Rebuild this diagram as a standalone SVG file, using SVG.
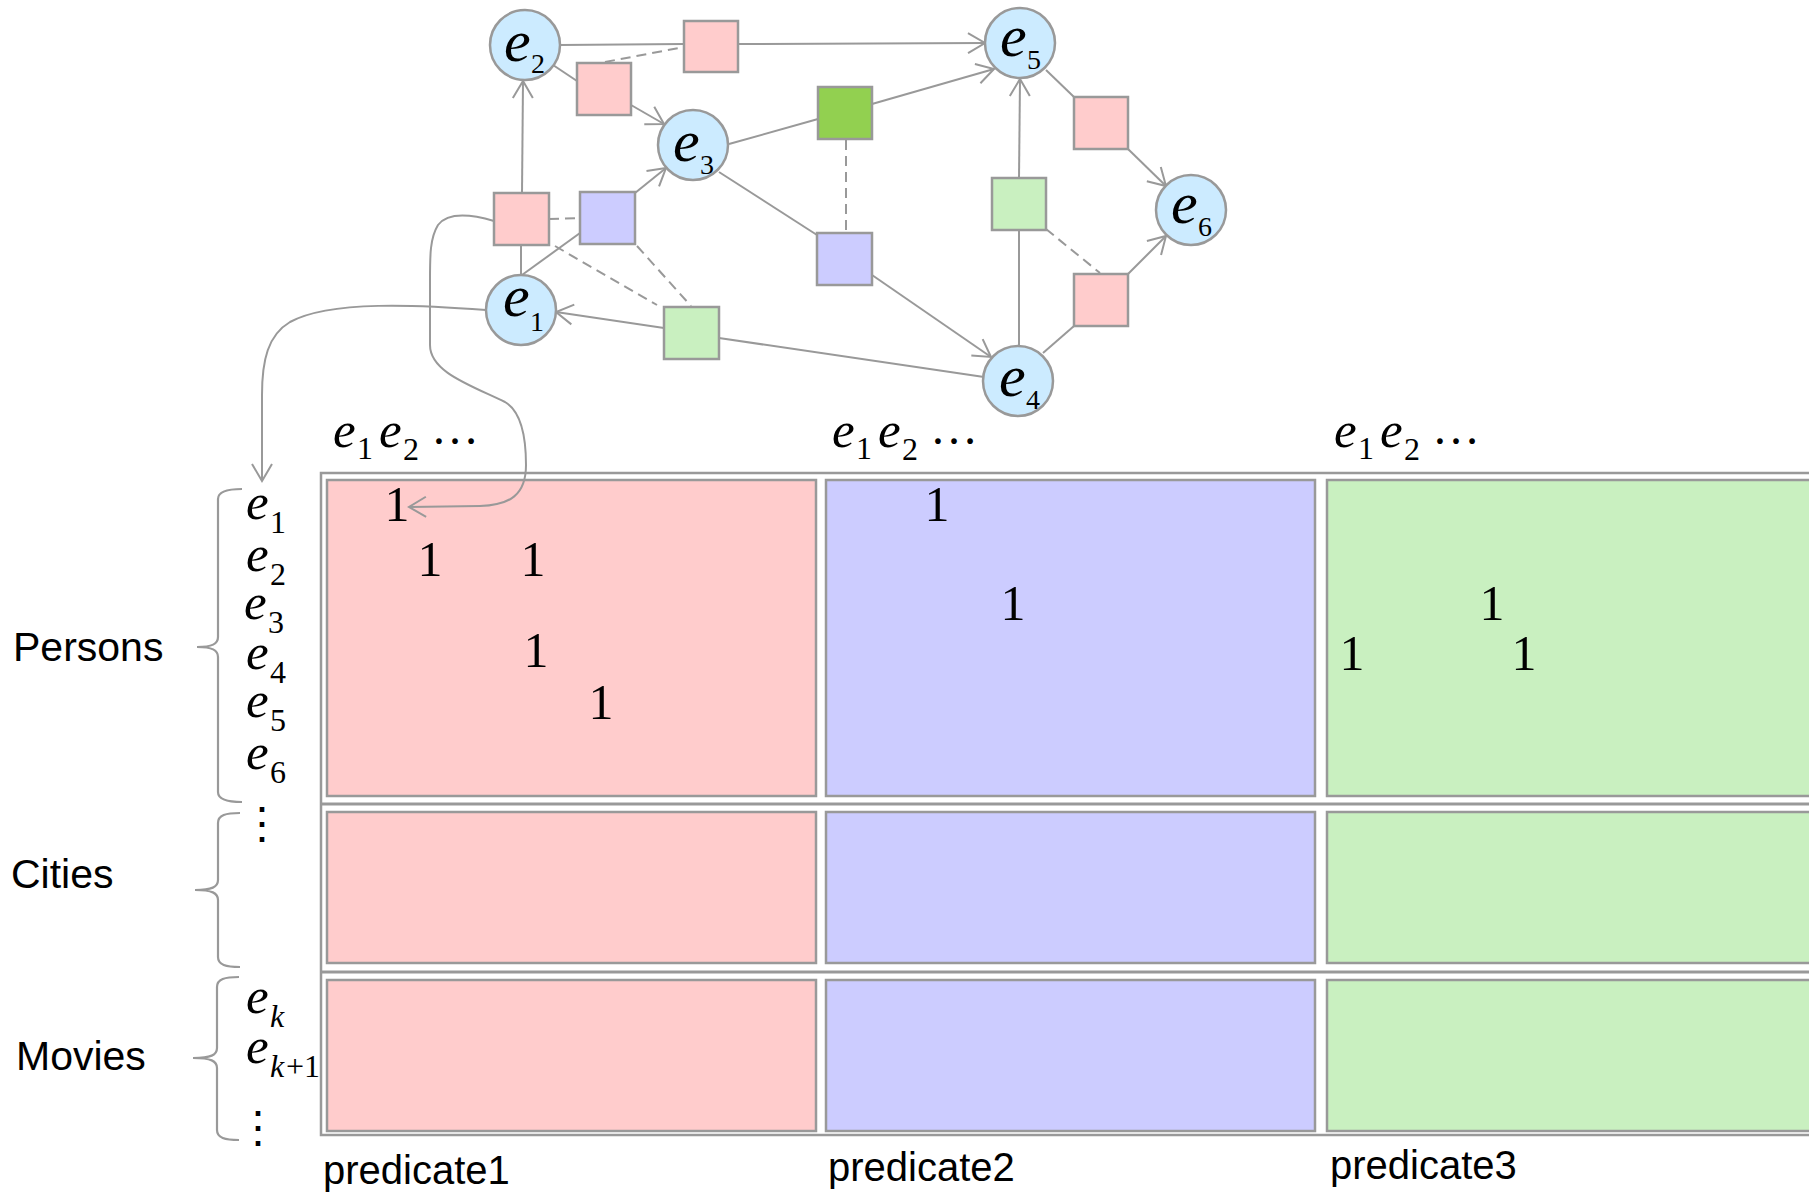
<svg xmlns="http://www.w3.org/2000/svg" width="1809" height="1194" viewBox="0 0 1809 1194">
<defs>
<marker id="arrow" markerUnits="userSpaceOnUse" viewBox="-20 -12 22 24" markerWidth="22" markerHeight="24" refX="0" refY="0" orient="auto">
<path d="M-17,-10 L0,0 L-17,10" fill="none" stroke="#999" stroke-width="2"/>
</marker>
<style>
.edge{fill:none;stroke:#999;stroke-width:2}
.dash{fill:none;stroke:#999;stroke-width:2;stroke-dasharray:10 6}
.ent circle{fill:#CCEBFF;stroke:#999;stroke-width:2.5}
.rel rect{stroke:#999;stroke-width:2.5}
.pk{fill:#FFCCCC}
.bl{fill:#CCCCFF}
.gl{fill:#C9F0C0}
.gd{fill:#92D050}
.math{font-family:"Liberation Serif","Times New Roman",serif;fill:#000}
.it{font-style:italic}
.sans{font-family:"Liberation Sans",Arial,sans-serif;font-size:40px;fill:#000}
.cat{font-size:41px}
.cell{stroke:#999;stroke-width:2.5}
.brace{fill:none;stroke:#999;stroke-width:2.2}
.one{font-family:"Liberation Serif","Times New Roman",serif;font-size:50px;text-anchor:middle;fill:#000}
</style>
</defs>
<rect width="1809" height="1194" fill="#fff"/>

<!-- adjacency tensor slices -->
<g id="matrix">
  <rect x="321" y="473" width="1530" height="662" fill="none" stroke="#999" stroke-width="2.5"/>
  <rect class="cell pk" x="327" y="480" width="489" height="316"/>
  <rect class="cell bl" x="826" y="480" width="489" height="316"/>
  <rect class="cell gl" x="1327" y="480" width="520" height="316"/>
  <rect class="cell pk" x="327" y="812" width="489" height="151"/>
  <rect class="cell bl" x="826" y="812" width="489" height="151"/>
  <rect class="cell gl" x="1327" y="812" width="520" height="151"/>
  <rect class="cell pk" x="327" y="980" width="489" height="151"/>
  <rect class="cell bl" x="826" y="980" width="489" height="151"/>
  <rect class="cell gl" x="1327" y="980" width="520" height="151"/>
  <line x1="322" y1="804" x2="1809" y2="804" stroke="#999" stroke-width="3"/>
  <line x1="322" y1="972" x2="1809" y2="972" stroke="#999" stroke-width="3"/>
</g>

<!-- graph connectors -->
<g id="connectors">
  <path class="edge" d="M560,45 L684,44"/>
  <path class="edge" d="M738,44 L985,43" marker-end="url(#arrow)"/>
  <path class="dash" d="M605,62 L684,47"/>
  <path class="edge" d="M553,65 L577,81"/>
  <path class="edge" d="M631,105 L664,124" marker-end="url(#arrow)"/>
  <path class="edge" d="M521,275 L521,245"/>
  <path class="edge" d="M522,193 L523,81" marker-end="url(#arrow)"/>
  <path class="edge" d="M522,275 L580,233"/>
  <path class="edge" d="M635,193 L666,168" marker-end="url(#arrow)"/>
  <path class="dash" d="M549,219 L580,218"/>
  <path class="dash" d="M555,246 L657,305"/>
  <path class="dash" d="M637,246 L691,306"/>
  <path class="edge" d="M664,328 L556,312" marker-end="url(#arrow)"/>
  <path class="edge" d="M719,338 L984,377"/>
  <path class="edge" d="M729,144 L818,119"/>
  <path class="edge" d="M872,104 L994,69" marker-end="url(#arrow)"/>
  <path class="dash" d="M846,140 L846,230"/>
  <path class="edge" d="M719,172 L817,235"/>
  <path class="edge" d="M872,275 L991,357" marker-end="url(#arrow)"/>
  <path class="edge" d="M1019,346 L1019,230"/>
  <path class="edge" d="M1019,178 L1020,79" marker-end="url(#arrow)"/>
  <path class="dash" d="M1046,229 L1100,273"/>
  <path class="edge" d="M1046,70 L1074,97"/>
  <path class="edge" d="M1128,149 L1166,186" marker-end="url(#arrow)"/>
  <path class="edge" d="M1043,353 L1074,326"/>
  <path class="edge" d="M1128,274 L1166,236" marker-end="url(#arrow)"/>
  <!-- links from the graph into the matrix -->
  <path class="edge" d="M486,310 C420,305 330,300 290,322 C268,335 262,360 262,395 L262,481" marker-end="url(#arrow)"/>
  <path class="edge" d="M494,221 C470,214 448,212 438,225 C430,238 430,255 430,280 L430,345 C430,372 470,385 505,402 C522,412 526,440 526,465 C526,495 510,505 480,506 L409,507" marker-end="url(#arrow)"/>
</g>

<!-- entity nodes -->
<g id="e1" class="ent"><circle cx="521" cy="310" r="35"/><text class="math"><tspan class="it" x="503" y="316" font-size="60">e</tspan><tspan x="530" y="331" font-size="28">1</tspan></text></g>
<g id="e2" class="ent"><circle cx="525" cy="45" r="35"/><text class="math"><tspan class="it" x="504" y="61" font-size="60">e</tspan><tspan x="531" y="73" font-size="28">2</tspan></text></g>
<g id="e3" class="ent"><circle cx="693" cy="145" r="35"/><text class="math"><tspan class="it" x="673" y="161" font-size="60">e</tspan><tspan x="700" y="174" font-size="28">3</tspan></text></g>
<g id="e4" class="ent"><circle cx="1018" cy="381" r="35"/><text class="math"><tspan class="it" x="999" y="396" font-size="60">e</tspan><tspan x="1026" y="409" font-size="28">4</tspan></text></g>
<g id="e5" class="ent"><circle cx="1020" cy="43" r="35"/><text class="math"><tspan class="it" x="1000" y="56" font-size="60">e</tspan><tspan x="1027" y="69" font-size="28">5</tspan></text></g>
<g id="e6" class="ent"><circle cx="1191" cy="210" r="35"/><text class="math"><tspan class="it" x="1171" y="223" font-size="60">e</tspan><tspan x="1198" y="236" font-size="28">6</tspan></text></g>

<!-- relation nodes -->
<g id="r-e2-e5" class="rel"><rect class="pk" x="684" y="21" width="54" height="51"/></g>
<g id="r-e2-e3" class="rel"><rect class="pk" x="577" y="63" width="54" height="52"/></g>
<g id="r-e1-e2" class="rel"><rect class="pk" x="494" y="193" width="55" height="52"/></g>
<g id="r-e1-e3" class="rel"><rect class="bl" x="580" y="192" width="55" height="52"/></g>
<g id="r-e4-e1" class="rel"><rect class="gl" x="664" y="307" width="55" height="52"/></g>
<g id="r-e3-e5" class="rel"><rect class="gd" x="818" y="87" width="54" height="52"/></g>
<g id="r-e3-e4" class="rel"><rect class="bl" x="817" y="233" width="55" height="52"/></g>
<g id="r-e4-e5" class="rel"><rect class="gl" x="992" y="178" width="54" height="52"/></g>
<g id="r-e5-e6" class="rel"><rect class="pk" x="1074" y="97" width="54" height="52"/></g>
<g id="r-e4-e6" class="rel"><rect class="pk" x="1074" y="274" width="54" height="52"/></g>

<!-- entries -->
<g id="entries">
  <text class="one" x="397" y="521">1</text>
  <text class="one" x="430" y="576">1</text>
  <text class="one" x="533" y="576">1</text>
  <text class="one" x="536" y="667">1</text>
  <text class="one" x="601" y="719">1</text>
  <text class="one" x="937" y="521">1</text>
  <text class="one" x="1013" y="620">1</text>
  <text class="one" x="1492" y="620">1</text>
  <text class="one" x="1352" y="670">1</text>
  <text class="one" x="1524" y="670">1</text>
</g>

<!-- column headers -->
<g id="col-headers" class="math">
  <text><tspan class="it" x="333" y="447" font-size="51">e</tspan><tspan x="357" y="459" font-size="32">1</tspan><tspan class="it" x="379" y="447" font-size="51">e</tspan><tspan x="403" y="460" font-size="32">2</tspan><tspan x="431" y="444" font-size="48">…</tspan></text>
  <text><tspan class="it" x="832" y="447" font-size="51">e</tspan><tspan x="856" y="459" font-size="32">1</tspan><tspan class="it" x="878" y="447" font-size="51">e</tspan><tspan x="902" y="460" font-size="32">2</tspan><tspan x="930" y="444" font-size="48">…</tspan></text>
  <text><tspan class="it" x="1334" y="447" font-size="51">e</tspan><tspan x="1358" y="459" font-size="32">1</tspan><tspan class="it" x="1380" y="447" font-size="51">e</tspan><tspan x="1404" y="460" font-size="32">2</tspan><tspan x="1432" y="444" font-size="48">…</tspan></text>
</g>

<!-- row labels -->
<g id="row-labels" class="math">
  <text><tspan class="it" x="246" y="519" font-size="51">e</tspan><tspan x="270" y="533" font-size="32">1</tspan></text>
  <text><tspan class="it" x="246" y="571" font-size="51">e</tspan><tspan x="270" y="585" font-size="32">2</tspan></text>
  <text><tspan class="it" x="244" y="619" font-size="51">e</tspan><tspan x="268" y="633" font-size="32">3</tspan></text>
  <text><tspan class="it" x="246" y="669" font-size="51">e</tspan><tspan x="270" y="683" font-size="32">4</tspan></text>
  <text><tspan class="it" x="246" y="717" font-size="51">e</tspan><tspan x="270" y="731" font-size="32">5</tspan></text>
  <text><tspan class="it" x="246" y="769" font-size="51">e</tspan><tspan x="270" y="783" font-size="32">6</tspan></text>
  <text x="262" y="838" font-size="44" text-anchor="middle" font-family="DejaVu Serif, serif">⋮</text>
  <text><tspan class="it" x="246" y="1013" font-size="51">e</tspan><tspan class="it" x="270" y="1027" font-size="32">k</tspan></text>
  <text><tspan class="it" x="246" y="1063" font-size="51">e</tspan><tspan class="it" x="270" y="1077" font-size="32">k</tspan><tspan x="286" y="1077" font-size="32">+1</tspan></text>
  <text x="258" y="1142" font-size="44" text-anchor="middle" font-family="DejaVu Serif, serif">⋮</text>
</g>

<!-- groups -->
<g id="braces">
  <path class="brace" d="M242,489 C228,489 218,491 218,499 L218,637 C218,644 212,647 197,647 C212,647 218,650 218,657 L218,792 C218,800 228,802 242,802"/>
  <path class="brace" d="M240,813 C226,813 218,815 218,823 L218,880 C218,887 212,890 195,890 C212,890 218,893 218,900 L218,957 C218,965 226,967 240,967"/>
  <path class="brace" d="M239,977 C225,977 217,979 217,987 L217,1048 C217,1055 211,1058 193,1058 C211,1058 217,1061 217,1068 L217,1130 C217,1138 225,1140 239,1140"/>
  <text class="sans cat" x="13" y="661">Persons</text>
  <text class="sans cat" x="11" y="888">Cities</text>
  <text class="sans cat" x="16" y="1070">Movies</text>
</g>

<!-- slice names -->
<g id="predicates">
  <text class="sans" x="323" y="1184">predicate1</text>
  <text class="sans" x="828" y="1181">predicate2</text>
  <text class="sans" x="1330" y="1179">predicate3</text>
</g>
</svg>
